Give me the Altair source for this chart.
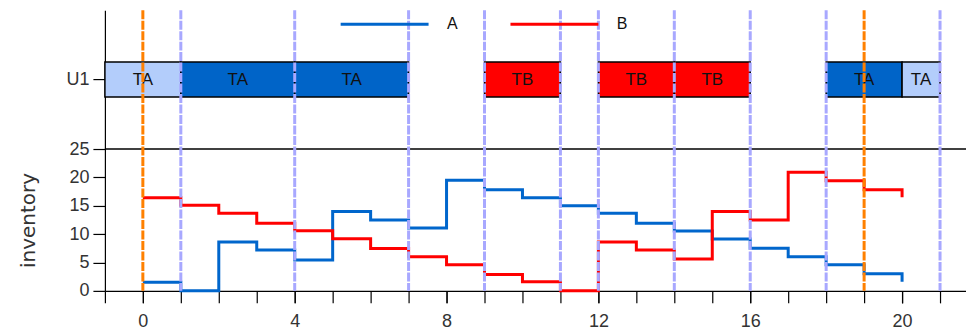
import altair as alt
import pandas as pd

# ---- data ----
times = list(range(0, 21))
inv_A = [1.5, 0, 8.6, 7.2, 5.45, 14.0, 12.5, 11.1, 19.5, 17.8, 16.4,
         15.0, 13.7, 11.9, 10.55, 9.15, 7.5, 6.0, 4.6, 3.0, 1.6]
inv_B = [16.4, 15.1, 13.7, 11.9, 10.6, 9.2, 7.45, 6.0, 4.6, 2.9, 1.6,
         0.0, 8.6, 7.2, 5.6, 14.0, 12.5, 20.9, 19.4, 17.8, 16.5]

task_start = [-1, 1, 4, 9, 12, 14, 18, 20]
task_end = [1, 4, 7, 11, 14, 16, 20, 21]
task_name = ["TA", "TA", "TA", "TB", "TB", "TB", "TA", "TA"]
task_kind = ["A_idle", "A_run", "A_run", "B_run", "B_run", "B_run", "A_run", "A_idle"]

event_x = [1, 4, 7, 9, 11, 12, 14, 16, 18, 21]
marker_x = [0, 19]

y_ticks = [0, 5, 10, 15, 20, 25]
x_ticks = list(range(-1, 22))
x_labels = [0, 4, 8, 12, 16, 20]

# ---- tables ----
inv = pd.DataFrame({
    "t": times * 2,
    "inventory": inv_A + inv_B,
    "product": ["A"] * len(times) + ["B"] * len(times),
})
tasks = pd.DataFrame({"start": task_start, "end": task_end,
                      "name": task_name, "kind": task_kind})
tasks["mid"] = (tasks["start"] + tasks["end"]) / 2
events = pd.DataFrame({"x": event_x})
markers = pd.DataFrame({"x": marker_x})

FONT = "Liberation Sans"
X_DOM = [-1, 21.684]
Y_DOM = [0, 49.47]
U1_POS = 37.24

xs = alt.Scale(domain=X_DOM, nice=False, zero=False)
ys = alt.Scale(domain=Y_DOM, nice=False, zero=False)

x_axis_ticks = alt.Axis(values=x_ticks, labels=False, orient="bottom",
                        tickSize=12, grid=False, title=None, domainColor="black",
                        tickColor="black", domainWidth=1.2, tickWidth=1.2)
x_axis_labels = alt.Axis(values=x_labels, labelOverlap=False, format="d", orient="bottom",
                         tickSize=12, labelPadding=10, labelFontSize=18, labelFont=FONT,
                         labelColor="#333", grid=False, title=None, domain=False,
                         tickColor="black", tickWidth=1.2, labelFlush=False)
y_axis = alt.Axis(values=y_ticks + [U1_POS],
                  labelExpr="datum.value > 30 ? 'U1' : datum.label",
                  labelOverlap=False,
                  tickSize=12, labelPadding=4, labelFontSize=18, labelFont=FONT,
                  labelColor="#333", grid=False, title="inventory",
                  titleFont="DejaVu Sans", titleFontSize=20, titleFontWeight="normal",
                  titleColor="#333", titleAngle=270, titleX=-76, titleY=210,
                  titleAlign="center", titleBaseline="middle",
                  domainColor="black", tickColor="black", domainWidth=1.2, tickWidth=1.2)

base_axes = alt.Chart(inv).mark_point(opacity=0).encode(
    x=alt.X("t:Q", scale=xs, axis=x_axis_ticks),
    y=alt.Y("inventory:Q", scale=ys, axis=y_axis),
)
label_axis = alt.Chart(inv).mark_point(opacity=0).encode(
    x=alt.X("t:Q", scale=xs, axis=x_axis_labels),
    y=alt.Y("inventory:Q", scale=ys),
)

top_rule = alt.Chart(inv).mark_rule(color="black", strokeWidth=1.3).encode(
    y=alt.datum(25, scale=ys)
).transform_filter("datum.t == 0 && datum.product == 'A'")

bars = alt.Chart(tasks).mark_rect(stroke="black", strokeWidth=1.5).encode(
    x=alt.X("start:Q", scale=xs, axis=None),
    x2="end:Q",
    y=alt.datum(34.15),
    y2=alt.datum(40.32),
    fill=alt.Fill("kind:N", scale=alt.Scale(domain=["A_idle", "A_run", "B_run"],
                                            range=["#b3cdfb", "#0064c8", "#ff0000"]),
                  legend=None),
)

labels = alt.Chart(tasks).mark_text(font=FONT, fontSize=17, color="#111").encode(
    x=alt.X("mid:Q", scale=xs, axis=None),
    y=alt.datum(U1_POS),
    text="name:N",
)

lines = alt.Chart(inv).mark_line(interpolate="step-after", strokeWidth=3).encode(
    x=alt.X("t:Q", scale=xs, axis=None),
    y=alt.Y("inventory:Q", scale=ys),
    color=alt.Color("product:N",
                    scale=alt.Scale(domain=["A", "B"], range=["#0066cc", "#ff0000"]),
                    legend=alt.Legend(orient="none", legendX=234.5, legendY=4,
                                      direction="horizontal", title=None,
                                      symbolType="stroke", symbolSize=7744,
                                      symbolStrokeWidth=3, clipHeight=20,
                                      labelFontSize=16, labelFont=FONT, labelColor="#111",
                                      labelOffset=17, columnPadding=51, padding=0)),
)

ev_rules = alt.Chart(events).mark_rule(color="#a8a8ff", strokeWidth=3,
                                       strokeDash=[9, 1.5]).encode(
    x=alt.X("x:Q", scale=xs, axis=None))
mk_rules = alt.Chart(markers).mark_rule(color="#ff8000", strokeWidth=3,
                                        strokeDash=[9, 1.5]).encode(
    x=alt.X("x:Q", scale=xs, axis=None))

chart = alt.layer(base_axes, label_axis, top_rule, bars, labels, lines, ev_rules,
                  mk_rules).resolve_axis(x="independent").properties(
    width=862, height=281,
    autosize=alt.AutoSizeParams(type="none"),
    padding={"left": 97, "top": 2, "right": 0, "bottom": 40},
).configure_view(stroke=None)

chart.save("out.html", embed_options={"renderer": "svg", "actions": False})
